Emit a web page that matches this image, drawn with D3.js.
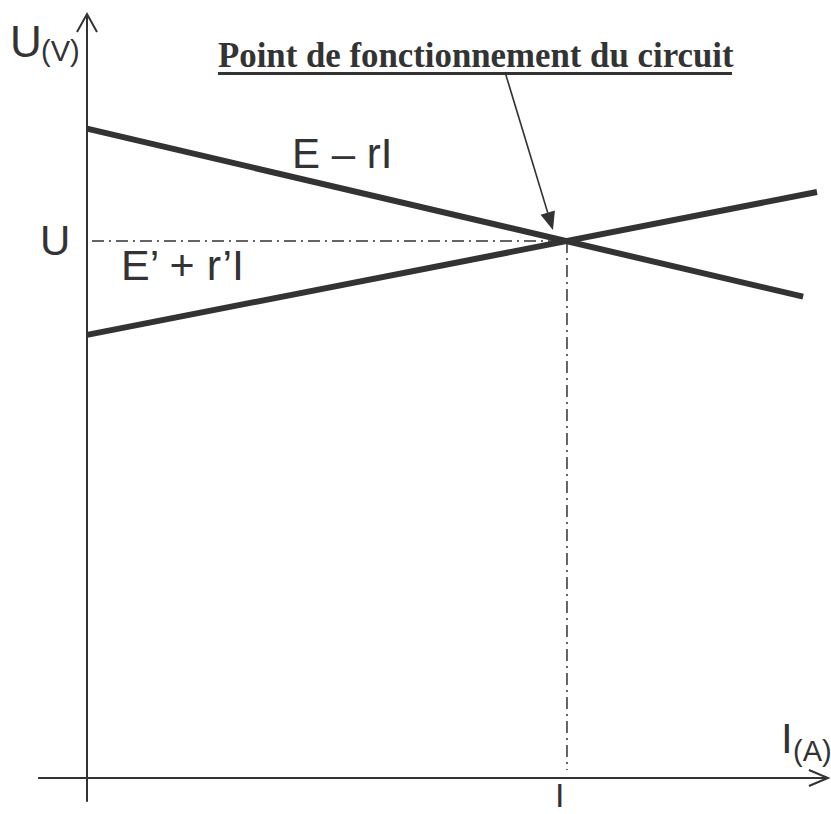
<!DOCTYPE html>
<html>
<head>
<meta charset="utf-8">
<script src="https://cdn.jsdelivr.net/npm/d3@7"></script>
<style>
  body { margin: 0; background: #fff; }
  text { fill: #333; }
</style>
</head>
<body>
<div id="chart"></div>
<script>
// values (arbitrary units)
var genI = [0, 9.81];       // E - rI
var genU = [8.5, 6.3];
var recI = [0, 10];         // E' + r'I
var recU = [5.8, 7.67];
var opI = 6.575, opU = 7.03; // operating point
var xExtent = [-0.67, 10.15];
var yExtent = [-0.31, 10];

var width = 831, height = 814;
var ink = "#333";

var svg = d3.select("#chart").append("svg")
    .attr("width", width)
    .attr("height", height);

var x = d3.scaleLinear().domain([0, 10]).range([87, 817]);
var y = d3.scaleLinear().domain([0, 10]).range([778, 14]);

var line = d3.line()
    .x(function(d) { return x(d[0]); })
    .y(function(d) { return y(d[1]); });

// axes
svg.append("line")
    .attr("x1", x(xExtent[0])).attr("x2", x(xExtent[1]))
    .attr("y1", y(0)).attr("y2", y(0))
    .style("stroke", ink).style("stroke-width", 2);
svg.append("line")
    .attr("x1", x(0)).attr("x2", x(0))
    .attr("y1", y(yExtent[0])).attr("y2", y(yExtent[1]))
    .style("stroke", ink).style("stroke-width", 2);

// open arrow heads on the axes
var tx = x(xExtent[1]), ty = y(yExtent[1]);
svg.append("path")
    .attr("d", "M" + (tx - 19) + "," + (y(0) - 8) + "L" + tx + "," + y(0) + "L" + (tx - 19) + "," + (y(0) + 8))
    .style("fill", "none").style("stroke", ink).style("stroke-width", 2);
svg.append("path")
    .attr("d", "M" + (x(0) - 10) + "," + (ty + 18) + "L" + x(0) + "," + ty + "L" + (x(0) + 10) + "," + (ty + 18))
    .style("fill", "none").style("stroke", ink).style("stroke-width", 2);

// dash-dot guides to the operating point
svg.append("line")
    .attr("x1", x(0) + 5).attr("x2", x(opI))
    .attr("y1", y(opU)).attr("y2", y(opU))
    .style("stroke", ink).style("stroke-width", 1.5)
    .style("stroke-dasharray", "12,5,2,5");
svg.append("line")
    .attr("x1", x(opI)).attr("x2", x(opI))
    .attr("y1", y(opU)).attr("y2", y(0) - 8)
    .style("stroke", ink).style("stroke-width", 1.5)
    .style("stroke-dasharray", "12,5,2,5");

// the two characteristics
svg.append("path")
    .datum(d3.zip(genI, genU))
    .attr("d", line)
    .style("fill", "none").style("stroke", ink).style("stroke-width", 6);
svg.append("path")
    .datum(d3.zip(recI, recU))
    .attr("d", line)
    .style("fill", "none").style("stroke", ink).style("stroke-width", 6);

// title + arrow
svg.append("text")
    .attr("x", 218).attr("y", 67)
    .style("font-family", "'Liberation Serif', 'Times New Roman', serif")
    .style("font-weight", "bold")
    .style("font-size", "34.8px")
    .text("Point de fonctionnement du circuit");
svg.append("line")
    .attr("x1", 218).attr("x2", 732)
    .attr("y1", 73.5).attr("y2", 73.5)
    .style("stroke", ink).style("stroke-width", 3);

var ax0 = 505, ay0 = 72, ax1 = x(opI) - 14, ay1 = y(opU) - 11;
var dx = ax1 - ax0, dy = ay1 - ay0, len = Math.sqrt(dx * dx + dy * dy);
var ux = dx / len, uy = dy / len, hl = 18, hw = 7.5;
svg.append("line")
    .attr("x1", ax0).attr("y1", ay0)
    .attr("x2", ax1 - ux * hl).attr("y2", ay1 - uy * hl)
    .style("stroke", ink).style("stroke-width", 1.6);
svg.append("path")
    .attr("d", "M" + ax1 + "," + ay1 +
      "L" + (ax1 - ux * hl - uy * hw) + "," + (ay1 - uy * hl + ux * hw) +
      "L" + (ax1 - ux * hl + uy * hw) + "," + (ay1 - uy * hl - ux * hw) + "Z")
    .style("fill", ink);

// labels
var sans = "'Liberation Sans', Arial, sans-serif";
function label(px, py, size, str) {
  svg.append("text")
    .attr("x", px).attr("y", py)
    .style("font-family", sans)
    .style("font-size", size + "px")
    .text(str);
}
label(10, 57, 44, "U");
label(41, 61, 29, "(V)");
label(40, 255, 42, "U");
label(292, 168, 42, "E \u2013 rI");
label(121, 280, 43, "E\u2019 + r\u2019I");
label(781, 753, 42, "I");
label(793, 761, 29, "(A)");
label(555, 806.5, 34, "I");
</script>
</body>
</html>
